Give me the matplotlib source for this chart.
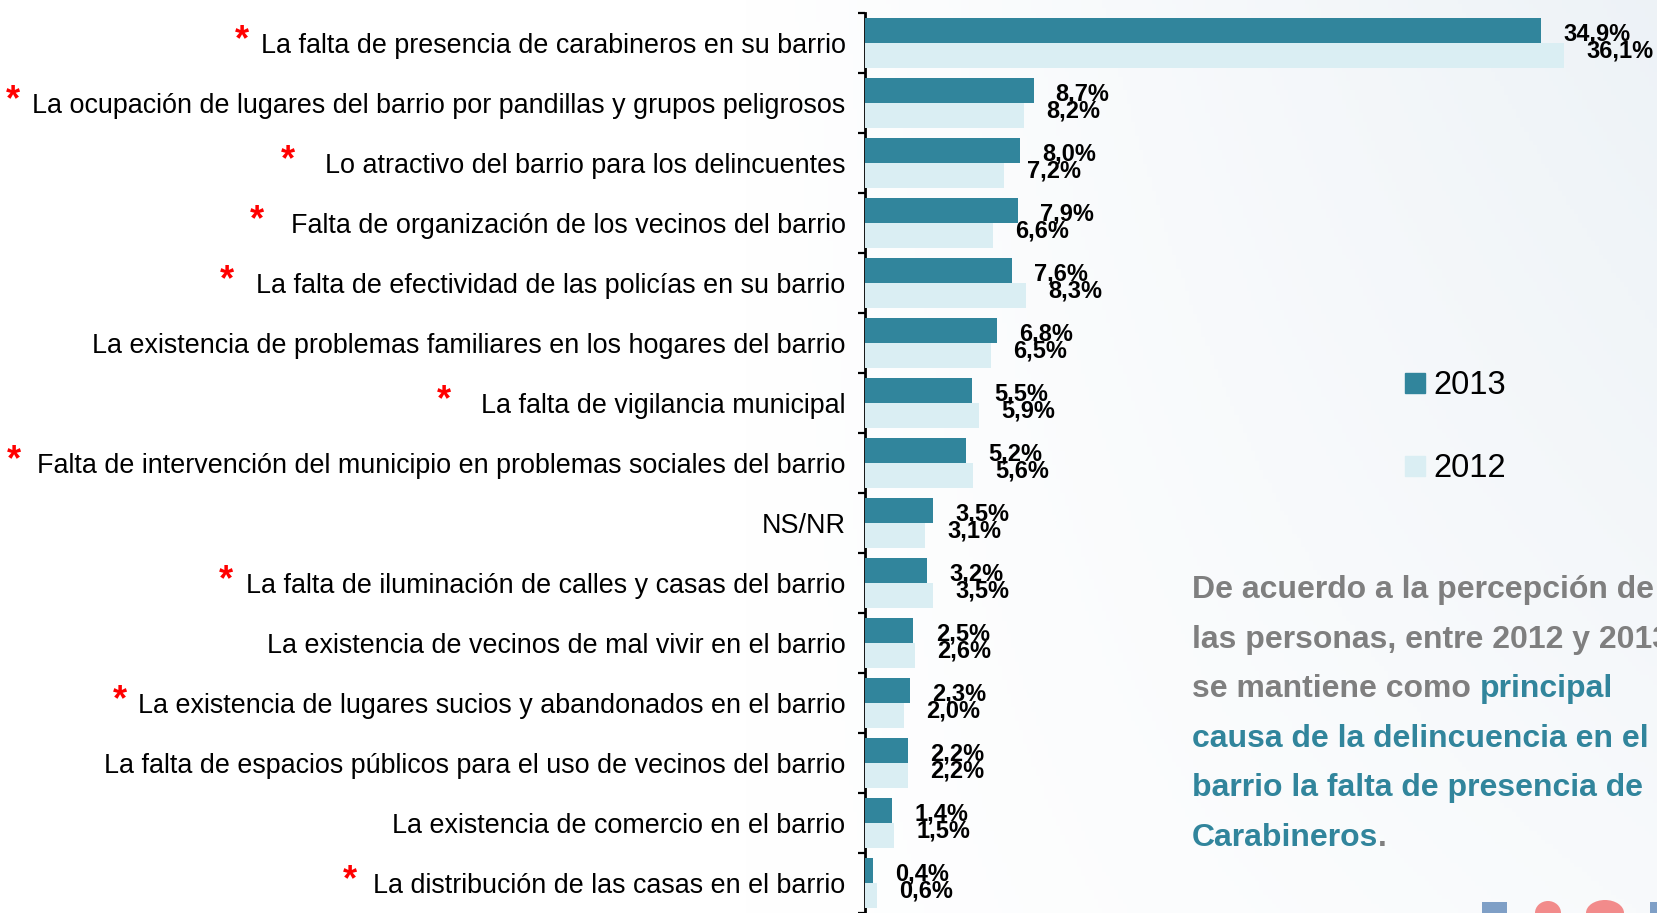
import matplotlib
matplotlib.use("Agg")
import matplotlib.pyplot as plt
import numpy as np
from matplotlib.patches import Rectangle, Ellipse
from matplotlib.lines import Line2D

# ---------------- data ----------------
categories = [
    "La falta de presencia de carabineros en su barrio",
    "La ocupación de lugares del barrio por pandillas y grupos peligrosos",
    "Lo atractivo del barrio para los delincuentes",
    "Falta de organización de los vecinos del barrio",
    "La falta de efectividad de las policías en su barrio",
    "La existencia de problemas familiares en los hogares del barrio",
    "La falta de vigilancia municipal",
    "Falta de intervención del municipio en problemas sociales del barrio",
    "NS/NR",
    "La falta de iluminación de calles y casas del barrio",
    "La existencia de vecinos de mal vivir en el barrio",
    "La existencia de lugares sucios y abandonados en el barrio",
    "La falta de espacios públicos para el uso de vecinos del barrio",
    "La existencia de comercio en el barrio",
    "La distribución de las casas en el barrio",
]
values_2013 = [34.9, 8.7, 8.0, 7.9, 7.6, 6.8, 5.5, 5.2, 3.5, 3.2, 2.5, 2.3, 2.2, 1.4, 0.4]
values_2012 = [36.1, 8.2, 7.2, 6.6, 8.3, 6.5, 5.9, 5.6, 3.1, 3.5, 2.6, 2.0, 2.2, 1.5, 0.6]
starred = [True, True, True, True, True, False, True, True, False, True, False, True, False, False, True]
series_names = ["2013", "2012"]

# ---------------- layout / style ----------------
star_gap_px = [19, 19, 37, 34, 29, 0, 37, 23, 0, 20, 0, 18, 0, 0, 23]
C2013 = "#31859C"
C2012 = "#DAEEF3"
GRAY = "#7F7F7F"
TEAL = "#31859C"
W, H = 1657, 913
DPI = 100

plt.rcParams['font.family'] = ['Liberation Sans', 'DejaVu Sans']

fig = plt.figure(figsize=(W / DPI, H / DPI), dpi=DPI)
fig.patch.set_facecolor("white")

# faint background gradient
bg = fig.add_axes([0, 0, 1, 1], zorder=-10)
gx = np.linspace(0, 1, 400)
gy = np.linspace(0, 1, 200)
GX, GY = np.meshgrid(gx, gy)
t = np.clip((GX - 0.45) / 0.55, 0, 1) * (0.4 + 0.6 * GY)
base = np.array([1.0, 1.0, 1.0])
tint = np.array([0.93, 0.95, 0.968])
img = base[None, None, :] * (1 - t[..., None]) + tint[None, None, :] * t[..., None]
bg.imshow(img, extent=[0, 1, 0, 1], aspect="auto", origin="lower")
bg.set_axis_off()

# logo fragment bottom-right
fig.patches.append(Rectangle((1482 / W, 0), 25 / W, 11 / H, transform=fig.transFigure,
                             facecolor="#7F9FC6", edgecolor="none"))
fig.patches.append(Ellipse((1548 / W, 0), 26 / W, 24 / H, transform=fig.transFigure,
                           facecolor="#F28B8B", edgecolor="none"))
fig.patches.append(Ellipse((1605 / W, 0), 38 / W, 26 / H, transform=fig.transFigure,
                           facecolor="#F28B8B", edgecolor="none"))
fig.patches.append(Rectangle((1650 / W, 0), 7 / W, 11 / H, transform=fig.transFigure,
                             facecolor="#7F9FC6", edgecolor="none"))

ax_left = 865 / W
ax_top = (H - 13) / H
ax = fig.add_axes([ax_left, 0, 1 - ax_left, ax_top])
ax.patch.set_alpha(0)

n = len(categories)
y = np.arange(n)
bh = 0.415
ax.barh(y - bh / 2, values_2013, height=bh, color=C2013, label=series_names[0], zorder=3)
ax.barh(y + bh / 2, values_2012, height=bh, color=C2012, label=series_names[1], zorder=3)

ax.set_ylim(n - 0.5, -0.5)
ax.set_xlim(0, (W - 865) / 19.37)

for s in ["top", "right", "bottom"]:
    ax.spines[s].set_visible(False)
ax.spines["left"].set_linewidth(2)
ax.spines["left"].set_color("black")
ax.set_xticks([])

ax.set_yticks(y)
ax.set_yticklabels(categories, fontsize=19.4)
ax.tick_params(axis="y", which="major", length=0, pad=14)
ax.set_yticks(np.arange(n + 1) - 0.5, minor=True)
ax.tick_params(axis="y", which="minor", length=5, width=1.6, color="black", direction="out")

lab_kw = dict(fontsize=17, fontweight="bold", color="black", ha="left", va="center",
              textcoords="offset points")
for i in range(n):
    ax.annotate(f"{values_2013[i]:.1f}%".replace(".", ","), (values_2013[i], i - bh / 2 + 0.05),
                xytext=(16, 0), **lab_kw)
    ax.annotate(f"{values_2012[i]:.1f}%".replace(".", ","), (values_2012[i], i + bh / 2 - 0.075),
                xytext=(16, 0), **lab_kw)

# legend
handles = [Line2D([], [], marker="s", linestyle="none", markersize=15, color=C2013),
           Line2D([], [], marker="s", linestyle="none", markersize=15, color=C2012)]
fig.legend(handles, series_names, loc="upper left", bbox_to_anchor=(1404 / W, 1 - 370 / H),
           frameon=False, fontsize=23.5, handlelength=0.65, handletextpad=0.25,
           labelspacing=1.6, borderpad=0, borderaxespad=0)

# stars next to labels
fig.canvas.draw()
renderer = fig.canvas.get_renderer()
for i, lab in enumerate(ax.get_yticklabels()):
    if not starred[i]:
        continue
    bb = lab.get_window_extent(renderer)
    xs = bb.x0 - star_gap_px[i]
    yc = (bb.y0 + bb.y1) / 2 + 5
    fig.text(xs / W, yc / H, "*", color="red", fontsize=26, fontweight="bold",
             ha="center", va="center")

# commentary text block
lines = [
    [("De acuerdo a la percepción de", GRAY)],
    [("las personas, entre 2012 y 2013", GRAY)],
    [("se mantiene como ", GRAY), ("principal", TEAL)],
    [("causa de la delincuencia en el", TEAL)],
    [("barrio la falta de presencia de", TEAL)],
    [("Carabineros", TEAL), (".", GRAY)],
]
x0 = 1192
y0 = 590
dy = 49.6
for k, parts in enumerate(lines):
    xp = x0
    for txt, col in parts:
        t_ = fig.text(xp / W, 1 - (y0 + k * dy) / H, txt, color=col, fontsize=23,
                      fontweight="bold", ha="left", va="center")
        bb = t_.get_window_extent(renderer)
        xp = bb.x1

fig.savefig("out.png", dpi=DPI)
